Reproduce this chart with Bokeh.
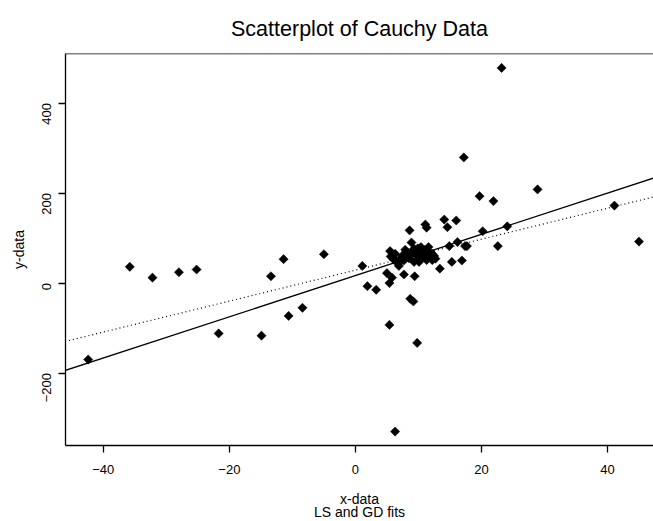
import math
from bokeh.plotting import figure
from bokeh.models import Range1d, Slope, Title, FixedTicker, Span
from bokeh.embed import file_html
from bokeh.resources import INLINE

# --- data ---
x_data = [
    -42.4, -35.8, -32.2, -28.0, -25.2, -21.7, -14.9, -13.4, -11.4, -10.6, -8.4, -5.0,
    1.1, 1.9, 3.3, 5.0, 5.8, 5.4, 7.7, 9.4, 8.7, 9.2, 5.4, 9.8, 6.3, 13.4,
    8.6, 11.1, 11.3, 14.1, 16.0, 14.6, 16.2, 14.9, 17.4, 17.7, 15.3, 16.9,
    20.2, 22.6, 21.9, 19.7, 17.2, 28.9, 24.1, 23.2, 41.1, 45.0,
    5.5, 6.3, 5.6, 7.9, 8.9, 9.3, 10.4, 11.6, 12.2, 12.7, 12.2, 6.6, 6.9,
    7.7, 8.7, 9.8, 10.3, 11.1, 8.2, 7.2, 6.1, 9.6, 11.0, 10.1, 9.3, 11.3,
    6.8, 7.4, 8.0, 8.5, 9.0, 10.0, 10.7, 11.8, 12.5, 6.0, 7.0, 8.4, 9.9, 11.5,
]
y_data = [
    -170, 36, 12, 24, 30, -112, -117, 15, 53, -73, -55, 64,
    38, -7, -15, 22, 12, 0, 19, 15, -35, -41, -93, -133, -330, 32,
    117, 130, 123, 141, 139, 124, 91, 82, 82, 82, 47, 50,
    115, 82, 182, 193, 279, 208, 126, 478, 172, 92,
    71, 65, 59, 74, 90, 76, 80, 80, 65, 54, 51, 47, 38,
    50, 62, 65, 54, 62, 58, 54, 52, 73, 73, 47, 47, 51,
    43, 60, 68, 55, 70, 58, 70, 68, 60, 56, 48, 66, 77, 56,
]

# fitted lines (LS solid, GD dotted)
ls_fit = {"intercept": 16.6, "slope": 4.58}
gd_fit = {"intercept": 28.6, "slope": 3.44}

x_ticks = [-40, -20, 0, 20, 40]
y_ticks = [-200, 0, 200, 400]
y_top = 510

FONT = "Liberation Sans"

p = figure(
    width=653, height=521,
    output_backend="svg", toolbar_location=None,
    x_range=Range1d(-46.0, 47.3), y_range=Range1d(-361, y_top),
    min_border_left=65, min_border_right=0, min_border_top=53, min_border_bottom=76,
)
xax = p.below[0]
yax = p.left[0]

p.title.text = "Scatterplot of Cauchy Data"
p.title.align = "center"
p.title.offset = 3
p.title.text_font = FONT
p.title.text_font_size = "21.5px"
p.title.text_font_style = "normal"
p.title.text_color = "black"
p.title.text_line_height = 1.0
p.title.standoff = 26

p.grid.visible = False
p.outline_line_color = None
p.background_fill_color = "white"
p.border_fill_color = "white"

for ax in (xax, yax):
    ax.axis_line_color = "black"
    ax.axis_line_width = 1.3
    ax.major_tick_line_color = "black"
    ax.major_tick_line_width = 1.3
    ax.major_tick_out = 7
    ax.major_tick_in = 0
    ax.minor_tick_line_color = None
    ax.major_label_text_font = FONT
    ax.major_label_text_font_size = "13px"
    ax.major_label_text_color = "black"
    ax.axis_label_text_font = FONT
    ax.axis_label_text_font_size = "14px"
    ax.axis_label_text_font_style = "normal"
    ax.axis_label_text_color = "black"

xax.ticker = FixedTicker(ticks=x_ticks)
yax.ticker = FixedTicker(ticks=y_ticks)
xax.axis_label = "x-data"
yax.axis_label = "y-data"
xax.major_label_standoff = 12
xax.axis_label_standoff = 14
yax.major_label_orientation = math.pi / 2
yax.major_label_standoff = 12
yax.axis_label_standoff = 8

# top border of the box
p.add_layout(Span(location=y_top, dimension="width", line_color="black", line_width=1.3))

sub = Title(text="LS and GD fits", align="center", text_font=FONT,
            text_font_size="14px", text_font_style="normal", text_color="black",
            standoff=-15)
p.add_layout(sub, "below")

p.scatter(x_data, y_data, marker="square", angle=math.pi / 4, size=6.5,
          fill_color="black", line_color="black", line_width=0.5)

p.add_layout(Slope(gradient=ls_fit["slope"], y_intercept=ls_fit["intercept"],
                   line_color="black", line_width=1.3))
p.add_layout(Slope(gradient=gd_fit["slope"], y_intercept=gd_fit["intercept"],
                   line_color="black", line_width=1.2, line_dash="1 3"))

open("out.html", "w").write(file_html(p, INLINE))
